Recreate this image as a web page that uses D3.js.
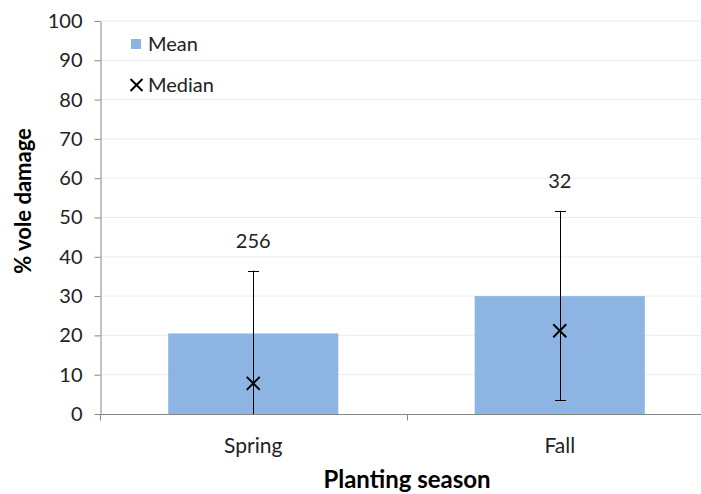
<!DOCTYPE html>
<html>
<head>
<meta charset="utf-8">
<script src="https://cdn.jsdelivr.net/npm/d3@7"></script>
<style>
  html, body { margin: 0; padding: 0; background: #fff; }
  svg { display: block; font-family: Lato, "Open Sans", sans-serif; }
</style>
</head>
<body>
<svg id="chart" width="701" height="494"></svg>
<script>
// Vole damage by planting season
const seasons = ["Spring", "Fall"];
const meanDamage = [20.5, 30];
const medianDamage = [7.8, 21.2];
const errLow = [-5, 3.6];
const errHigh = [36.5, 51.7];
const sampleSizes = ["256", "32"];
const yTicks = [0, 10, 20, 30, 40, 50, 60, 70, 80, 90, 100];

const svg = d3.select("#chart");
const margin = { left: 100, top: 21, right: -12, bottom: 80 };
const W = 701, H = 494;
const x0 = margin.left, x1 = W - margin.right;
const yTop = margin.top, yBot = H - margin.bottom;

const x = d3.scaleBand().domain(seasons).range([x0, x1]).paddingInner(0).paddingOuter(0);
const y = d3.scaleLinear().domain([0, 100]).range([yBot, yTop]);

svg.append("defs").append("clipPath").attr("id", "plotClip")
  .append("rect").attr("x", x0).attr("y", yTop).attr("width", x1 - x0).attr("height", yBot - yTop);

// gridlines
svg.append("g").selectAll("line").data(yTicks.filter(d => d > 0)).join("line")
  .attr("x1", x0).attr("x2", x1)
  .attr("y1", d => y(d)).attr("y2", d => y(d))
  .attr("stroke", "#ececec").attr("stroke-width", 1);

// bars
const barW = x.bandwidth() * 0.555;
svg.append("g").selectAll("rect").data(seasons).join("rect")
  .attr("x", d => x(d) + x.bandwidth() / 2 - barW / 2)
  .attr("width", barW)
  .attr("y", (d, i) => y(meanDamage[i]))
  .attr("height", (d, i) => y(0) - y(meanDamage[i]))
  .attr("fill", "#8EB4E3");

// error bars
const eb = svg.append("g").attr("clip-path", "url(#plotClip)")
  .attr("stroke", "#000").attr("stroke-width", 1);
seasons.forEach((s, i) => {
  const cx = Math.round(x(s) + x.bandwidth() / 2) + 0.5;
  eb.append("line").attr("x1", cx).attr("x2", cx)
    .attr("y1", y(errLow[i])).attr("y2", y(errHigh[i]));
  [errLow[i], errHigh[i]].filter(v => v > 0).forEach(v => {
    eb.append("line").attr("x1", cx - 5.5).attr("x2", cx + 5.5)
      .attr("y1", Math.round(y(v)) + 0.5).attr("y2", Math.round(y(v)) + 0.5);
  });
});

// median markers
const cross = (g, cx, cy, r) => {
  g.append("path")
    .attr("d", `M${cx - r},${cy - r}L${cx + r},${cy + r}M${cx - r},${cy + r}L${cx + r},${cy - r}`)
    .attr("stroke", "#000").attr("stroke-width", 2).attr("fill", "none");
};
const med = svg.append("g");
seasons.forEach((s, i) => cross(med, x(s) + x.bandwidth() / 2, y(medianDamage[i]), 6.5));

// sample size labels
svg.append("g").selectAll("text").data(seasons).join("text")
  .attr("x", d => x(d) + x.bandwidth() / 2)
  .attr("y", (d, i) => y(errHigh[i]) - 23)
  .attr("text-anchor", "middle")
  .attr("font-size", 20).attr("fill", "#222")
  .text((d, i) => sampleSizes[i]);

// y axis
const yAxis = svg.append("g").attr("transform", `translate(${x0 + 0.5},0)`)
  .call(d3.axisLeft(y).tickValues(yTicks).tickSize(6).tickSizeOuter(0).tickPadding(12));
yAxis.select(".domain").attr("stroke", "#868686");
yAxis.selectAll(".tick line").attr("stroke", "#868686");
yAxis.selectAll("text").attr("font-size", 20).attr("fill", "#222")
  .attr("font-family", "Lato, sans-serif");

// x axis
const xAxisG = svg.append("g").attr("transform", `translate(0,${yBot + 0.5})`);
xAxisG.append("line").attr("x1", x0).attr("x2", x1).attr("stroke", "#868686");
xAxisG.selectAll(".sep").data([x0, ...seasons.map(s => x(s) + x.bandwidth())]).join("line")
  .attr("class", "sep")
  .attr("x1", d => Math.round(d) + 0.5).attr("x2", d => Math.round(d) + 0.5)
  .attr("y1", 0).attr("y2", 6).attr("stroke", "#868686");
xAxisG.selectAll("text").data(seasons).join("text")
  .attr("x", d => x(d) + x.bandwidth() / 2)
  .attr("y", 38)
  .attr("text-anchor", "middle")
  .attr("font-size", 21).attr("fill", "#222")
  .text(d => d);

// axis titles
svg.append("text")
  .attr("transform", `translate(31,201) rotate(-90)`)
  .attr("text-anchor", "middle")
  .attr("font-size", 22).attr("font-weight", "bold").attr("fill", "#000")
  .text("% vole damage");
svg.append("text")
  .attr("x", 407).attr("y", 488)
  .attr("text-anchor", "middle")
  .attr("font-size", 24).attr("font-weight", "bold").attr("fill", "#000")
  .text("Planting season");

// legend
const lg = svg.append("g");
lg.append("rect").attr("x", 131).attr("y", 39).attr("width", 10).attr("height", 10).attr("fill", "#8EB4E3");
lg.append("text").attr("x", 148).attr("y", 51).attr("font-size", 20).attr("fill", "#222").text("Mean");
cross(lg, 136.5, 85, 6);
lg.append("text").attr("x", 148).attr("y", 92).attr("font-size", 20).attr("fill", "#222").text("Median");
</script>
</body>
</html>
